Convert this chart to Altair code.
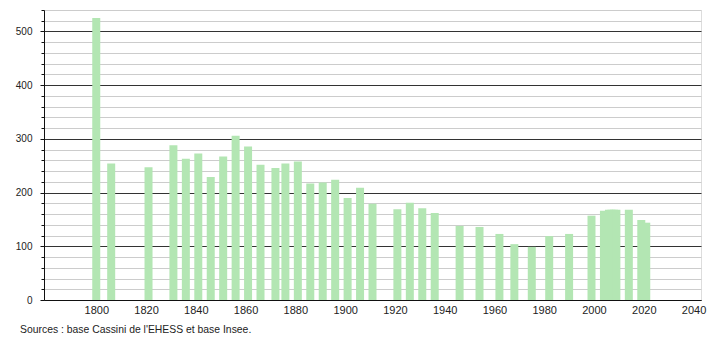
import altair as alt
import pandas as pd

years = [1800, 1806, 1821, 1831, 1836, 1841, 1846, 1851, 1856, 1861, 1866, 1872,
         1876, 1881, 1886, 1891, 1896, 1901, 1906, 1911, 1921, 1926, 1931, 1936,
         1946, 1954, 1962, 1968, 1975, 1982, 1990, 1999, 2004, 2006, 2007, 2008,
         2009, 2014, 2019, 2021]
population = [525, 254, 247, 288, 263, 273, 229, 267, 306, 286, 252, 246,
              254, 258, 217, 219, 224, 190, 209, 179, 169, 181, 171, 162,
              138, 136, 123, 104, 99, 119, 123, 157, 166, 168, 168, 168,
              168, 168, 149, 144]
x_ticks = list(range(1800, 2041, 20))
y_ticks = list(range(0, 541, 20))
source_text = "Sources : base Cassini de l'EHESS et base Insee."

FONT = "Liberation Sans"
is_major = "datum.value % 100 === 0"

df = pd.DataFrame({"year": years, "pop": population})

chart = alt.Chart(df).mark_bar(width=8, color="#b3e6b3").encode(
    x=alt.X(
        "year:Q",
        scale=alt.Scale(domain=[1779, 2043], nice=False, zero=False, padding=0),
        axis=alt.Axis(
            values=x_ticks, format="d", ticks=False, grid=False, title=None,
            labelPadding=4, domainColor="#111", labelFont=FONT,
            labelFontSize=11, labelColor="#222",
        ),
    ),
    y=alt.Y(
        "pop:Q",
        scale=alt.Scale(domain=[0, 540], nice=False),
        axis=alt.Axis(
            values=y_ticks, title=None, grid=True,
            labelExpr="datum.value % 100 === 0 ? datum.label : ''",
            labelOverlap=False,
            tickSize={"condition": {"test": is_major, "value": 4}, "value": 3},
            gridColor={"condition": {"test": is_major, "value": "#333333"}, "value": "#cccccc"},
            tickColor="#111", domainColor="#111",
            labelPadding=8, labelFont=FONT, labelFontSize=10, labelColor="#222",
        ),
    ),
).properties(
    width=657,
    height=290,
    title=alt.TitleParams(
        text=source_text, orient="bottom", anchor="start", frame="group",
        dx=-24, offset=10,
        font=FONT, fontSize=10.4, fontWeight="normal", color="#222",
    ),
    autosize=alt.AutoSizeParams(type="none"),
    padding={"left": 44, "top": 10, "right": 9, "bottom": 40},
).configure_view(stroke=None).configure(background="white")

chart.save("out.html", embed_options={"renderer": "svg", "actions": False})
